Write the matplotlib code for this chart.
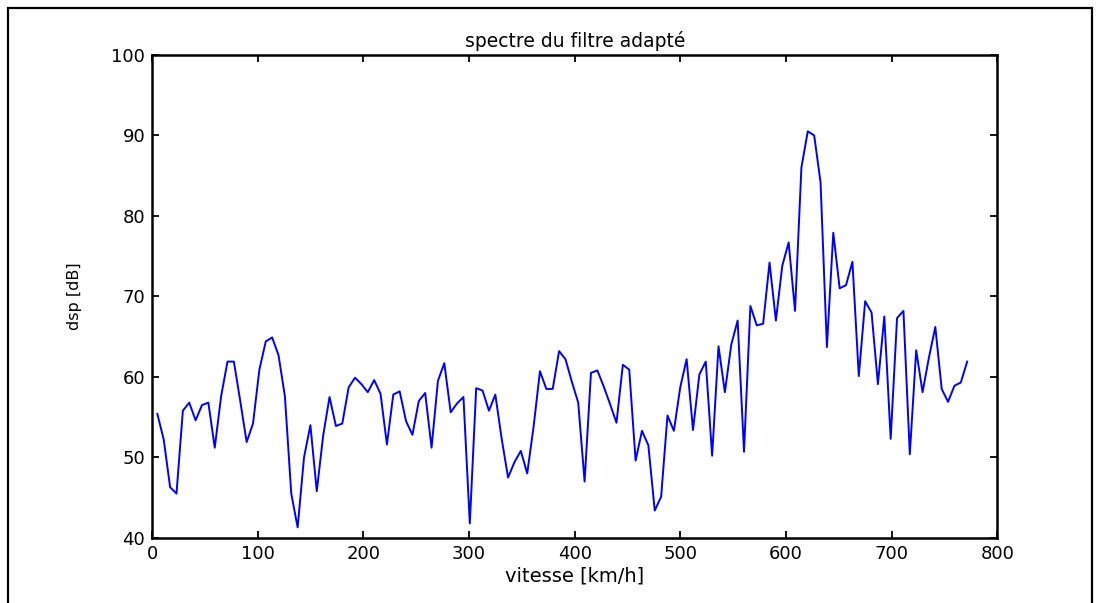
import numpy as np
import matplotlib
matplotlib.use('Agg')
import matplotlib.pyplot as plt
from matplotlib.patches import Rectangle

plt.rcParams['font.family'] = ['DejaVu Sans']

# speed grid (km/h), 128 samples
vitesse = np.linspace(5.0, 771.5, 128)

# power spectral density (dB), read point by point
dsp = [
    55.4, 52.2, 46.3, 45.5, 55.8, 56.8, 54.6, 56.5, 56.8, 51.2,
    57.6, 61.9, 61.9, 57.0, 51.9, 54.2, 60.9, 64.4, 64.9, 62.7,
    57.6, 45.5, 41.3, 50.0, 54.0, 45.8, 52.7, 57.5, 53.9, 54.2,
    58.7, 59.9, 59.1, 58.1, 59.6, 57.9, 51.6, 57.8, 58.2, 54.5,
    52.8, 57.0, 58.0, 51.2, 59.5, 61.7, 55.6, 56.7, 57.5, 41.8,
    58.6, 58.3, 55.8, 57.8, 52.3, 47.5, 49.4, 50.8, 48.0, 53.8,
    60.7, 58.5, 58.5, 63.2, 62.2, 59.4, 56.8, 47.0, 60.5, 60.8,
    58.8, 56.6, 54.3, 61.5, 60.9, 49.6, 53.3, 51.5, 43.4, 45.1,
    55.2, 53.3, 58.7, 62.2, 53.4, 60.3, 61.9, 50.2, 63.8, 58.1,
    64.0, 67.0, 50.7, 68.8, 66.4, 66.6, 74.2, 67.0, 73.8, 76.7,
    68.2, 86.0, 90.5, 90.0, 84.2, 63.7, 77.9, 71.0, 71.4, 74.3,
    60.1, 69.4, 68.0, 59.1, 67.5, 52.3, 67.3, 68.2, 50.4, 63.3,
    58.1, 62.4, 66.2, 58.5, 56.9, 58.9, 59.3, 61.9,
]

x_ticks = [0, 100, 200, 300, 400, 500, 600, 700, 800]
y_ticks = [40, 50, 60, 70, 80, 90, 100]

fig = plt.figure(figsize=(11.02, 6.03), dpi=100)
ax = fig.add_axes([0.138, 0.108, 0.767, 0.801])

ax.plot(vitesse, dsp, color='#0000ff', linewidth=1.4)

ax.set_xlim(0, 800)
ax.set_ylim(40, 100)
ax.set_xticks(x_ticks)
ax.set_yticks(y_ticks)
ax.tick_params(direction='in', length=5, width=1.3, top=True, right=True,
               labelsize=13, pad=5, colors='black')
for s in ax.spines.values():
    s.set_linewidth(1.8)
    s.set_color('black')

ax.set_title('spectre du filtre adapté', fontsize=13.5, pad=6)
ax.set_xlabel('vitesse [km/h]', fontsize=14, labelpad=3)
ax.set_ylabel('dsp [dB]', fontsize=11.5, labelpad=21)

# outer frame around the whole figure
fig.patches.append(Rectangle((8 / 1102, -0.05), 1084 / 1102, 1.05 - 8 / 603,
                             transform=fig.transFigure, fill=False,
                             edgecolor='black', linewidth=1.6))

fig.savefig('out.png', dpi=100)
